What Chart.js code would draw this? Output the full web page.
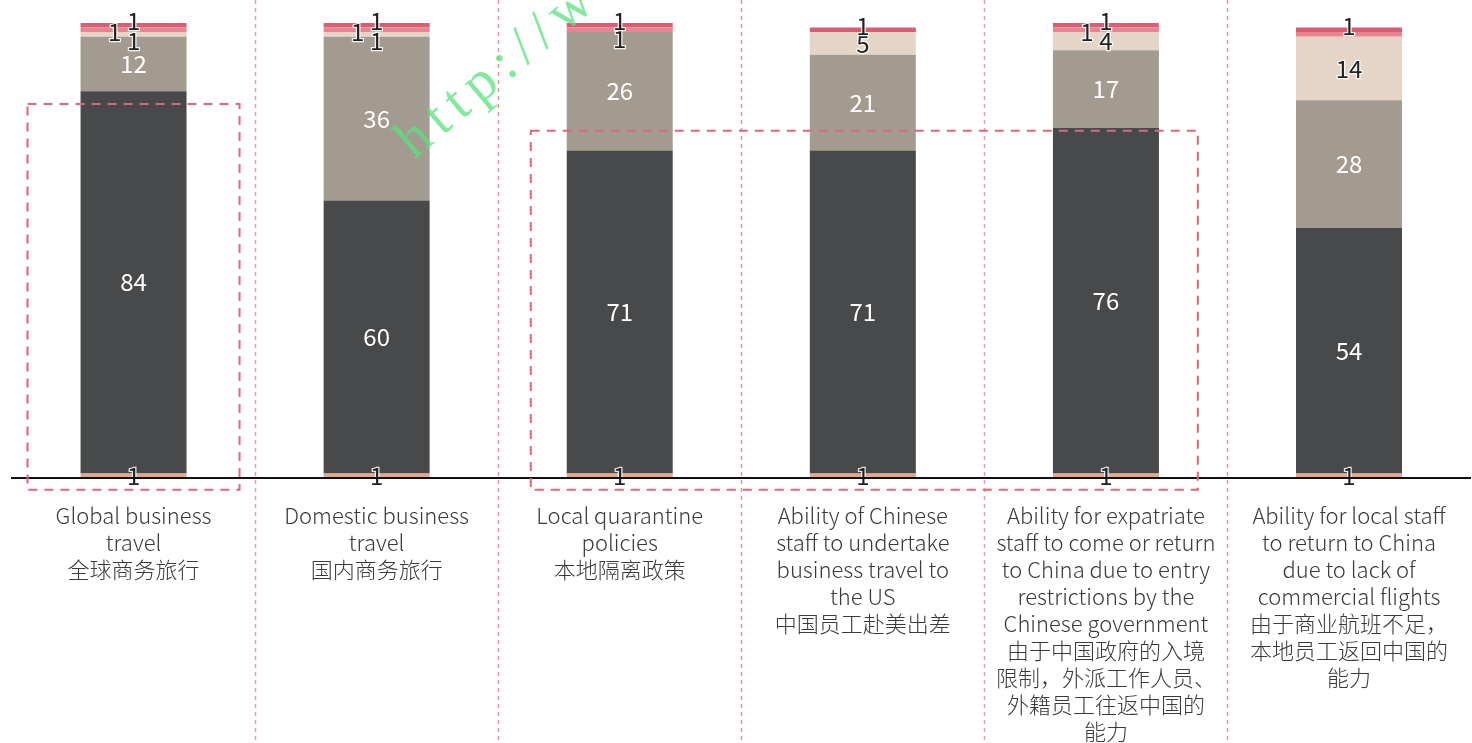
<!DOCTYPE html>
<html lang="en">
<head>
  <meta charset="UTF-8" />
  <title>Business travel impact</title>
  <style>
    body { margin: 0; background: #fff; }
    canvas { display: block; }
  </style>
  <script src="https://cdn.jsdelivr.net/npm/chart.js"></script>
</head>
<body>
  <canvas id="chart" width="1472" height="743"></canvas>
  <script>
    // DATA
    const categories = [
      ['Global business', 'travel', '全球商务旅行'],
      ['Domestic business', 'travel', '国内商务旅行'],
      ['Local quarantine', 'policies', '本地隔离政策'],
      ['Ability of Chinese', 'staff to undertake', 'business travel to', 'the US', '中国员工赴美出差'],
      ['Ability for expatriate', 'staff to come or return', 'to China due to entry', 'restrictions by the', 'Chinese government',
       '由于中国政府的入境', '限制，外派工作人员、', '外籍员工往返中国的', '能力'],
      ['Ability for local staff', 'to return to China', 'due to lack of', 'commercial flights',
       '由于商业航班不足，', '本地员工返回中国的', '能力']
    ];
    const salmonValues = [1, 1, 1, 1, 1, 1];
    const darkValues   = [84, 60, 71, 71, 76, 54];
    const greyValues   = [12, 36, 26, 21, 17, 28];
    const beigeValues  = [1, 1, 0, 5, 4, 14];
    const pinkValues   = [1, 1, 1, 0, 1, 1];
    const redValues    = [1, 1, 1, 1, 1, 1];
    // labels the original leaves out: [dataset, bar]
    const hiddenLabels = [[4, 5]];

    // STYLE
    const FONT = "'Noto Sans CJK SC', 'Noto Sans', sans-serif";
    const colors = ['#e5a88c', '#48494b', '#a39b8f', '#e4d5c6', '#e8848f', '#dd5c73'];
    // dashed highlight boxes, in scale units (category index / value)
    const boxes = [
      { xMin: -0.436, xMax: 0.436, yMin: -2.6, yMax: 82.2 },
      { xMin: 1.634, xMax: 4.378, yMin: -2.6, yMax: 76.3 }
    ];

    const series = [salmonValues, darkValues, greyValues, beigeValues, pinkValues, redValues];

    // decorations: separators, highlight boxes, watermark
    const decorPlugin = {
      id: 'decor',
      beforeDatasetsDraw(chart) {
        const ctx = chart.ctx, xs = chart.scales.x;
        ctx.save();
        ctx.strokeStyle = '#ee93a6';
        ctx.lineWidth = 1.5;
        ctx.setLineDash([4, 4]);
        for (let k = 0; k < categories.length - 1; k++) {
          const x = Math.round((xs.getPixelForValue(k) + xs.getPixelForValue(k + 1)) / 2) + 0.5;
          ctx.beginPath();
          ctx.moveTo(x, 0);
          ctx.lineTo(x, chart.height);
          ctx.stroke();
        }
        ctx.restore();
      },
      afterDraw(chart) {
        const ctx = chart.ctx, xs = chart.scales.x, ys = chart.scales.y;
        ctx.save();
        ctx.strokeStyle = '#e2647c';
        ctx.lineWidth = 2;
        ctx.setLineDash([9, 7]);
        boxes.forEach(b => {
          const x1 = xs.getPixelForValue(b.xMin), x2 = xs.getPixelForValue(b.xMax);
          const y1 = ys.getPixelForValue(b.yMax), y2 = ys.getPixelForValue(b.yMin);
          ctx.strokeRect(x1, y1, x2 - x1, y2 - y1);
        });
        ctx.restore();

        // watermark
        ctx.save();
        ctx.translate(414, 160);
        ctx.rotate(-40 * Math.PI / 180);
        ctx.fillStyle = 'rgba(90, 225, 125, 0.75)';
        ctx.font = "56px 'Liberation Serif', serif";
        ctx.letterSpacing = '9px';
        ctx.textBaseline = 'alphabetic';
        ctx.fillText('http://www.', 0, 0);
        ctx.restore();
      }
    };

    // value labels inside / next to segments
    const labelPlugin = {
      id: 'segLabels',
      afterDatasetsDraw(chart) {
        const ctx = chart.ctx;
        ctx.save();
        ctx.font = '24px ' + FONT;
        ctx.textAlign = 'center';
        ctx.textBaseline = 'middle';
        series.forEach((vals, i) => {
          const meta = chart.getDatasetMeta(i);
          vals.forEach((v, j) => {
            if (!v) return;
            if (hiddenLabels.some(h => h[0] === i && h[1] === j)) return;
            const el = meta.data[j];
            let x = el.x, y = (el.y + el.base) / 2;
            if (i === 5) y -= 4;
            if (i === 4) {
              if (beigeValues[j] > 0 && beigeValues[j] < 10) { x -= 19; y += 2; }
              else y += 9;
            }
            if (i === 3 && v < 3) y += 6;
            const txt = String(v);
            if (i === 1 || i === 2) {
              ctx.fillStyle = '#ffffff';
              ctx.fillText(txt, x, y);
            } else {
              ctx.lineWidth = 2.5;
              ctx.strokeStyle = 'rgba(255,255,255,0.85)';
              ctx.strokeText(txt, x, y);
              ctx.fillStyle = '#222222';
              ctx.fillText(txt, x, y);
            }
          });
        });
        ctx.restore();
      }
    };

    const chart = new Chart(document.getElementById('chart').getContext('2d'), {
      type: 'bar',
      data: {
        labels: categories,
        datasets: series.map((vals, i) => ({
          data: vals,
          backgroundColor: colors[i],
          borderWidth: 0,
          barPercentage: 0.436,
          categoryPercentage: 1
        }))
      },
      options: {
        responsive: false,
        animation: false,
        devicePixelRatio: 1,
        layout: { padding: { left: 12, right: 0, top: 23, bottom: 0 } },
        plugins: { legend: { display: false }, tooltip: { enabled: false } },
        scales: {
          x: {
            stacked: true,
            grid: { display: false, drawTicks: false },
            border: { display: true, color: '#111111', width: 2, z: 1 },
            afterFit(scale) { scale.height = 265; },
            ticks: {
              autoSkip: false,
              maxRotation: 0,
              padding: 24,
              color: '#3a3a3a',
              font: { family: FONT, size: 22, weight: 300, lineHeight: 1.23 }
            }
          },
          y: {
            stacked: true,
            display: false,
            min: 0,
            max: 100
          }
        }
      },
      plugins: [decorPlugin, labelPlugin]
    });
  </script>
</body>
</html>
